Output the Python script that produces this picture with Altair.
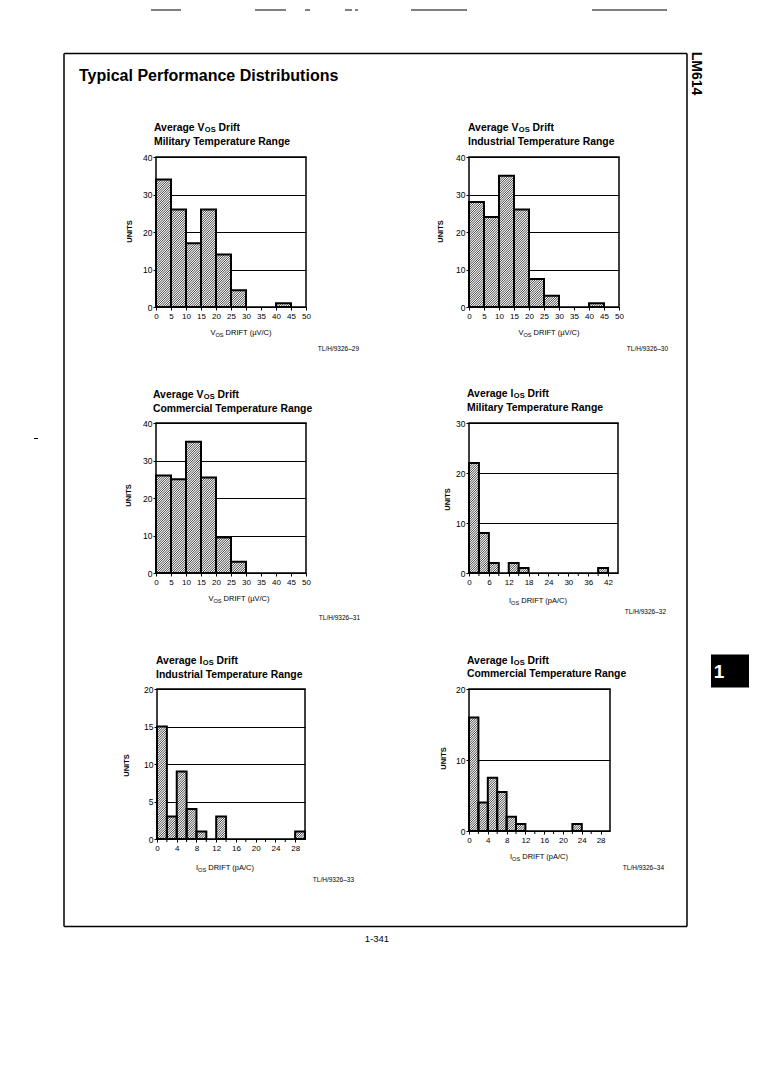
import math
import altair as alt
import pandas as pd

FONT = "Liberation Sans"

# ---------------- data ----------------
VOS_STEP = 5
MIL_VOS = [34, 26, 17, 26, 14, 4.5, 0, 0, 1, 0]
IND_VOS = [28, 24, 35, 26, 7.5, 3, 0, 0, 1, 0]
COM_VOS = [26, 25, 35, 25.5, 9.5, 3, 0, 0, 0, 0]

MIL_IOS_STEP = 3
MIL_IOS = [22, 8, 2, 0, 2, 1, 0, 0, 0, 0, 0, 0, 0, 1, 0]
IOS_STEP = 2
IND_IOS = [15, 3, 9, 4, 1, 0, 3, 0, 0, 0, 0, 0, 0, 0, 1]
COM_IOS = [16, 4, 7.5, 5.5, 2, 1, 0, 0, 0, 0, 0, 1, 0, 0, 0]

VOS_XTICKS = [0, 5, 10, 15, 20, 25, 30, 35, 40, 45, 50]
MIL_IOS_XTICKS = [0, 6, 12, 18, 24, 30, 36, 42]
IOS_XTICKS = [0, 4, 8, 12, 16, 20, 24, 28]
Y40 = [0, 10, 20, 30, 40]
Y30 = [0, 10, 20, 30]
Y20_5 = [0, 5, 10, 15, 20]
Y20_10 = [0, 10, 20]

PAGE_TITLE = "Typical Performance Distributions"
SIDE_TEXT = "LM614"
TAB_TEXT = "1"
PAGE_NO = "1-341"

# ---------------- helpers ----------------
REG = {' ': 278, '(': 333, ')': 333, '/': 278, 'A': 667, 'C': 722, 'D': 722, 'F': 611,
       'I': 278, 'O': 778, 'R': 722, 'S': 667, 'T': 611, 'V': 667, 'p': 556, 'µ': 576}
BOLD = {' ': 278, 'A': 722, 'D': 722, 'I': 278, 'M': 833, 'O': 778, 'R': 722, 'S': 667,
        'T': 611, 'V': 667, 'C': 722, 'a': 556, 'c': 556, 'd': 611, 'e': 556, 'f': 333,
        'g': 611, 'i': 278, 'l': 278, 'm': 889, 'n': 611, 'o': 611, 'p': 611, 'r': 389,
        's': 556, 't': 333, 'u': 611, 'y': 556}


def tw(s, size, bold):
    d = BOLD if bold else REG
    return sum(d.get(c, 556) for c in s) * size / 1000.0


ONE = pd.DataFrame({"k": [0]})


def text_mark(x, y, s, size, bold=False, align="left", color="black", angle=None):
    kw = dict(text=s, fontSize=size, font=FONT, fontWeight="bold" if bold else "normal",
              align=align, baseline="middle", fill=color)
    if angle is not None:
        kw["angle"] = angle
    return alt.Chart(ONE).mark_text(**kw).encode(x=alt.value(x), y=alt.value(y))


def rich(x, y, parts, size, bold, center=False, sub_scale=0.72, sub_dy=2.2):
    total = sum(tw(s, size * sub_scale if sub else size, bold) for s, sub in parts)
    if center:
        x -= total / 2.0
    out = []
    cx = x
    for s, sub in parts:
        sz = size * sub_scale if sub else size
        if s.startswith(" "):
            cx += tw(" ", sz, bold)
            s = s[1:]
        out.append(text_mark(cx, y + (sub_dy if sub else 0), s, sz, bold))
        cx += tw(s, sz, bold)
    return out


def rule(x1, y1, x2, y2, w=1.0, opacity=1.0):
    return alt.Chart(ONE).mark_rule(stroke="black", strokeWidth=w, strokeOpacity=opacity).encode(
        x=alt.value(x1), y=alt.value(y1), x2=alt.value(x2), y2=alt.value(y2))


def box(x1, y1, x2, y2, color="black"):
    return alt.Chart(ONE).mark_rect(fill=color).encode(
        x=alt.value(x1), y=alt.value(y1), x2=alt.value(x2), y2=alt.value(y2))


def bars_df(counts, step):
    return pd.DataFrame([{"x0": i * step, "x1": (i + 1) * step, "h": c, "z": 0}
                         for i, c in enumerate(counts) if c > 0])


HATCH = 2.3


def hatch_df(bars, sx, sy, s=HATCH):
    rows = []
    for r in bars.itertuples():
        W = (r.x1 - r.x0) * sx
        H = r.h * sy
        g0 = r.x0 * sx
        for k in range(math.floor((g0 - H) / s), math.ceil((g0 + W) / s) + 1):
            c = g0 - k * s
            xa = max(0.0, -c)
            xb = min(W, H - c)
            if xb - xa > 0.3:
                rows.append(dict(hx=r.x0 + xa / sx, hy=(xa + c) / sy,
                                 hx2=r.x0 + xb / sx, hy2=(xb + c) / sy))
    return pd.DataFrame(rows)


def panel(p, extra=()):
    W, H = p["w"], p["h"]
    xs = alt.Scale(domain=[0, p["xmax"]], nice=False, zero=False)
    ys = alt.Scale(domain=[0, p["ymax"]], nice=False)
    b = bars_df(p["counts"], p["step"])
    hd = hatch_df(b, W / p["xmax"], H / p["ymax"])
    minor_vals = [v for v in range(0, p["xlabels"][-1] + 1, p["minor"]) if v not in p["xlabels"]]
    xaxis = alt.Axis(values=p["xlabels"], grid=False, domain=False, title=None, tickSize=3,
                     labelPadding=2, labelFontSize=8, labelAngle=0, labelFlush=False,
                     labelOverlap=False, labelBound=False)
    ux, uy = p["units"]
    yaxis = alt.Axis(values=p["yticks"], grid=True, domain=False, title="UNITS",
                     titleX=ux, titleY=uy, titleAngle=270, titleAlign="center",
                     titleBaseline="middle", titleFontSize=7.5, titleFontWeight="bold",
                     tickSize=3, labelPadding=1, labelFontSize=8.5, labelFlush=False,
                     labelOverlap=False, labelBound=False)
    X = lambda f: alt.X(f, scale=xs, axis=xaxis)
    Y = lambda f: alt.Y(f, scale=ys, axis=yaxis)
    fill = alt.Chart(b).mark_rect(fill="white", strokeWidth=0).encode(
        x=X("x0:Q"), x2="x1", y=Y("h:Q"), y2="z")
    hatch = alt.Chart(hd).mark_rule(stroke="black", strokeWidth=0.75).encode(
        x=X("hx:Q"), x2="hx2", y=Y("hy:Q"), y2="hy2")
    outline = alt.Chart(b).mark_rect(fillOpacity=0, stroke="black", strokeWidth=2).encode(
        x=X("x0:Q"), x2="x1", y=Y("h:Q"), y2="z")
    layers = [fill, hatch, outline]
    if minor_vals:
        mticks = alt.Chart(pd.DataFrame({"m": minor_vals})).mark_rule(
            stroke="black", strokeWidth=1).encode(
            x=X("m:Q"), y=alt.value(H), y2=alt.value(H + 3))
        layers.append(mticks)
    tx, ty1, ty2 = p["title_pos"]
    layers += rich(tx, ty1, [("Average " + p["sym"], False), ("OS", True), (" Drift", False)], 10.4, True)
    layers.append(text_mark(tx, ty2, p["cond"], 10.4, bold=True))
    xtx, xty = p["xt_pos"]
    layers += rich(xtx, xty, [(p["sym"], False), ("OS", True), (" DRIFT (" + p["unit"] + ")", False)],
                   7.5, False, center=True, sub_scale=0.75, sub_dy=1.5)
    tlx, tly = p["tl_pos"]
    layers.append(text_mark(tlx, tly, p["tl"], 6.5, align="right"))
    layers += list(extra)
    return alt.layer(*layers).properties(width=W, height=H)


P = [
    dict(counts=MIL_VOS, step=VOS_STEP, xmax=50, ymax=40, yticks=Y40, xlabels=VOS_XTICKS, minor=5,
         w=150, h=150, sym="V", cond="Military Temperature Range", unit="µV/C", tl="TL/H/9326–29",
         title_pos=(-2, -29, -15), units=(-27, 74), xt_pos=(85, 176), tl_pos=(203, 192)),
    dict(counts=IND_VOS, step=VOS_STEP, xmax=50, ymax=40, yticks=Y40, xlabels=VOS_XTICKS, minor=5,
         w=150, h=150, sym="V", cond="Industrial Temperature Range", unit="µV/C", tl="TL/H/9326–30",
         title_pos=(-1, -29, -15), units=(-29, 74), xt_pos=(80, 176), tl_pos=(199, 192)),
    dict(counts=COM_VOS, step=VOS_STEP, xmax=50, ymax=40, yticks=Y40, xlabels=VOS_XTICKS, minor=5,
         w=150, h=150, sym="V", cond="Commercial Temperature Range", unit="µV/C", tl="TL/H/9326–31",
         title_pos=(-3, -28, -14), units=(-28, 72), xt_pos=(83, 176), tl_pos=(204, 195)),
    dict(counts=MIL_IOS, step=MIL_IOS_STEP, xmax=45, ymax=30, yticks=Y30, xlabels=MIL_IOS_XTICKS, minor=3,
         w=149, h=150, sym="I", cond="Military Temperature Range", unit="pA/C", tl="TL/H/9326–32",
         title_pos=(-2, -29, -15), units=(-22, 76), xt_pos=(69, 178), tl_pos=(197, 189)),
    dict(counts=IND_IOS, step=IOS_STEP, xmax=30, ymax=20, yticks=Y20_5, xlabels=IOS_XTICKS, minor=2,
         w=148, h=150, sym="I", cond="Industrial Temperature Range", unit="pA/C", tl="TL/H/9326–33",
         title_pos=(-1, -28, -14), units=(-31, 76), xt_pos=(68, 179), tl_pos=(197, 191)),
    dict(counts=COM_IOS, step=IOS_STEP, xmax=30, ymax=20, yticks=Y20_10, xlabels=IOS_XTICKS, minor=2,
         w=141, h=142, sym="I", cond="Commercial Temperature Range", unit="pA/C", tl="TL/H/9326–34",
         title_pos=(-2, -28, -15), units=(-26, 69), xt_pos=(70, 168), tl_pos=(195, 179)),
]

# page decorations, in page pixels, drawn relative to the first panel's plot origin
OX, OY = 155, 155.5


def pg(x, y):
    return x - OX, y - OY


deco = []
ax, ay = pg(8, 8)
deco.append(rule(ax, ay, ax + 1, ay, w=1, opacity=0))  # invisible anchor at page corner
fl, ft = pg(63, 52)
fr, fb = pg(686, 925)
deco += [rule(fl, ft, fr, ft, 1.5), rule(fl, fb, fr, fb, 1.5),
         rule(fl, ft, fl, fb, 1.5), rule(fr, ft, fr, fb, 1.5)]
for x1, x2 in [(150, 180), (254, 285), (304, 309), (344, 351), (354, 357), (410, 466), (591, 666)]:
    a, yy = pg(x1, 8.5)
    b2, _ = pg(x2, 8.5)
    deco.append(rule(a, yy, b2, yy, 1))
a, yy = pg(33, 437)
b2, _ = pg(37, 437)
deco.append(rule(a, yy, b2, yy, 1))
deco.append(text_mark(*pg(78, 74), PAGE_TITLE, 16, bold=True))
deco.append(text_mark(*pg(695, 72), SIDE_TEXT, 14, bold=True, align="center", angle=90))
bx1, by1 = pg(710, 653)
bx2, by2 = pg(748, 686)
deco.append(box(bx1, by1, bx2, by2))
deco.append(text_mark(*pg(718, 670), TAB_TEXT, 19, bold=True, align="center", color="white"))
deco.append(text_mark(*pg(376, 937), PAGE_NO, 9.5, align="center"))

panels = [panel(P[0], deco)] + [panel(p) for p in P[1:]]

chart = alt.concat(*panels, columns=2, spacing={"row": 116, "column": 163},
                   bounds="flush", center=True).properties(
    padding=0, background="white"
).configure_view(stroke="black", strokeWidth=1.5).configure_axis(
    labelFont=FONT, titleFont=FONT, labelColor="black", titleColor="black",
    tickColor="black", gridColor="black", gridOpacity=1, gridWidth=1, tickWidth=1
)

chart.save("out.html", embed_options={"renderer": "svg", "actions": False})
